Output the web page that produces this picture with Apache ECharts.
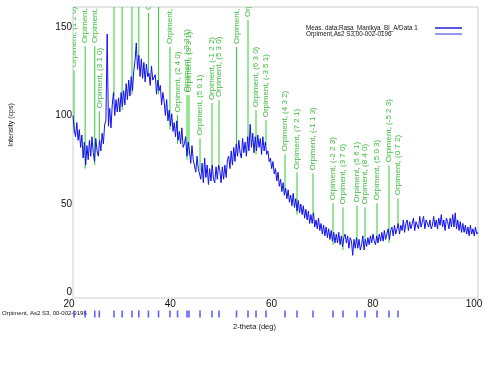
<!DOCTYPE html>
<html><head><meta charset="utf-8">
<script src="https://cdn.jsdelivr.net/npm/echarts@6/dist/echarts.min.js"></script>
<style>html,body{margin:0;padding:0;background:#fff}#c{width:500px;height:375px}</style>
</head><body><div id="c"></div>
<script>
// 2-theta grid of the measured scan
const thetaStart = 20;
const thetaStep = 0.25;
// measured intensity (cps), one value per 0.25 deg from 20 to 100
const intensity = [
 100,92,88,96, 86,92,82,89, 76,85,72,83, 75,86,77,88, 79,74,87,80,
 77,86,80,90, 84,95,97,146, 94,104,93,106, 113,100,109,102, 110,102,113,105,
 114,106,118,109, 120,111,122,114, 125,131,141,126, 134,122,132,121, 130,119,129,122,
 124,117,128,120, 119,123,112,120, 114,117,106,113, 108,100,109,97, 103,94,101,91,
 96,88,97,86, 91,84,93,82, 84,88,77,85, 80,73,83,75, 75,68,77,70,
 71,64,73,62, 76,65,72,61, 70,63,72,64, 62,71,64,72, 69,62,71,64,
 72,65,75,77, 70,80,72,82, 74,84,77,86, 79,76,87,79, 85,77,88,80,
 95,82,90,79, 88,80,89,82, 87,78,88,80, 85,78,80,74, 76,70,74,67,
 70,63,68,60, 64,57,62,55, 59,53,58,51, 55,49,56,48, 53,46,52,45,
 50,44,49,42, 47,41,46,39, 44,39,45,37, 41,36,42,35, 39,33,38,32,
 37,31,36,30, 35,29,34,28, 33,28,34,27, 32,26,31,33, 28,32,25,31,
 29,21,30,25, 31,25,30,24, 27,32,24,30, 26,31,27,32, 28,33,29,27,
 32,28,33,29, 34,29,35,30, 31,36,30,35, 37,32,38,33, 34,39,33,38,
 35,41,34,39, 41,35,40,36, 37,42,35,40, 41,36,43,37, 38,43,36,41,
 42,37,41,36, 38,43,37,41, 36,42,38,44, 37,41,35,42, 40,36,42,37,
 44,37,45,36, 41,35,40,34, 39,34,38,33, 37,32,38,33, 36,32,37,33,
 34
];
// reference pattern Orpiment, As2 S3, 00-002-0196: peak positions (2-theta)
const peakTheta = [20.2,22.4,24.3,25.2,28.1,29.7,31.65,33.0,34.9,36.9,39.15,40.65,42.52,42.91,45.09,47.46,48.84,52.3,54.57,56.15,58.12,61.88,64.25,67.41,71.36,73.33,76.1,77.68,80.05,82.42,84.2];
const peakHkl = ['(1 2 0)','(1 0 1)','(1 1 1)','(3 1 0)','(0 2 1)','(3 2 0)','(-2 2 1)','(3 1 1)','(0 3 1)','(3 2 1)','(4 1 1)','(2 4 0)','(-3 3 1)','(3 3 1)','(5 0 1)','(-1 2 2)','(5 3 0)','(0 5 1)','(4 4 1)','(6 3 0)','(-3 5 1)','(4 3 2)','(7 2 1)','(-1 1 3)','(-2 2 3)','(3 7 0)','(5 6 1)','(8 4 0)','(5 0 3)','(-5 2 3)','(0 7 2)'];
// height (cps) at which each peak-label line ends and its text begins
const peakLabelTop = [125.6,139.2,139.2,102.4,230,230,230,230,157.9,230,138.7,100.2,111.5,111.5,87.2,107,108.7,138.7,154,103,97.3,78.1,67.9,67.3,50.4,48.1,49.2,48.1,50.4,71.9,53.2];
const yTickValues = [0,50,100,150];
const seriesNames = ['Meas. data:Rasa_Manikya_Bl_A/Data 1','Orpiment,As2 S3,00-002-0196'];
const patternLabel = 'Orpiment, As2 S3, 00-002-0196';

const FONT = 'Liberation Sans, Arial, sans-serif';
const curve = intensity.map((v,i)=>[thetaStart + i*thetaStep, v]);
const valueAt = t => intensity[Math.max(0, Math.min(intensity.length-1, Math.round((t-thetaStart)/thetaStep)))];
const peakData = peakTheta.map((t,i)=>[t, valueAt(t) - 2, peakLabelTop[i]]);

const chart = echarts.init(document.getElementById('c'), null, {renderer:'canvas'});
chart.setOption({
  animation:false,
  backgroundColor:'#fff',
  textStyle:{fontFamily:FONT},
  grid:[
    {left:73, right:22, top:7, bottom:77, show:true, borderColor:'#cccccc', borderWidth:1, backgroundColor:'transparent'},
    {left:73, right:22, top:310.5, height:7}
  ],
  xAxis:[
    {gridIndex:0, type:'value', min:20, max:100, interval:20,
     axisLine:{show:false}, axisTick:{show:false}, splitLine:{show:false},
     axisLabel:{fontSize:10, color:'#111', margin:1, padding:[0,8,0,0], fontFamily:FONT}},
    {gridIndex:1, type:'value', min:20, max:100, show:false}
  ],
  yAxis:[
    {gridIndex:0, type:'value', min:-3.1, max:161.3,
     axisLine:{show:false}, axisTick:{show:false}, splitLine:{show:false},
     axisLabel:{customValues:yTickValues, fontSize:10, color:'#111', margin:1, fontFamily:FONT}},
    {gridIndex:1, type:'value', min:0, max:1, show:false}
  ],
  legend:{
    orient:'vertical', left:301, top:20, align:'right', itemWidth:27, itemHeight:1.5, itemGap:0,
    selectedMode:false,
    formatter: name => '{t|' + name + '}',
    textStyle:{fontSize:6.3, color:'#111', fontFamily:FONT,
      rich:{t:{width:124, align:'left', fontSize:6.3, color:'#111', fontFamily:FONT, lineHeight:9}}},
    data:[
      {name:seriesNames[0], icon:'rect', itemStyle:{color:'#2020d8'}},
      {name:seriesNames[1], icon:'rect', itemStyle:{color:'#5050f0'}}
    ]
  },
  graphic:[
    {type:'text', left:233, top:323, style:{text:'2-theta (deg)', fontSize:7.5, fill:'#111', fontFamily:FONT}},
    {type:'text', x:11, y:125, rotation:Math.PI/2, style:{text:'Intensity (cps)', fontSize:7, fill:'#111', align:'center', verticalAlign:'middle', fontFamily:FONT}},
    {type:'text', left:2, top:310, style:{text:patternLabel, fontSize:6, fill:'#111', fontFamily:FONT}}
  ],
  series:[
    {type:'custom', name:'peak labels', xAxisIndex:0, yAxisIndex:0, clip:true, z:1,
     data:peakData,
     renderItem:function(params, api){
       const x = api.value(0), b = api.value(1), t = api.value(2);
       const p0 = api.coord([x,b]), p1 = api.coord([x,t]);
       return {type:'group', children:[
         {type:'line', shape:{x1:p0[0], y1:p0[1], x2:p1[0], y2:p1[1]}, style:{stroke:'#33cc33', lineWidth:1}},
         {type:'text', x:p1[0], y:p1[1]-3, rotation:Math.PI/2,
          style:{text:'Orpiment, ' + peakHkl[params.dataIndex], fontSize:8, fill:'#3cbb3c', align:'left', verticalAlign:'middle', fontFamily:FONT}}
       ]};
     }},
    {type:'line', name:seriesNames[0], xAxisIndex:0, yAxisIndex:0, data:curve, showSymbol:false, z:3,
     lineStyle:{color:'#1010ee', width:1}, itemStyle:{color:'#2020d8'}},
    {type:'scatter', name:seriesNames[1], xAxisIndex:1, yAxisIndex:1, data:peakTheta.map(t=>[t,0.5]),
     symbol:'rect', symbolSize:[1.6,7], itemStyle:{color:'#3a3aff'}}
  ]
});
</script></body></html>
